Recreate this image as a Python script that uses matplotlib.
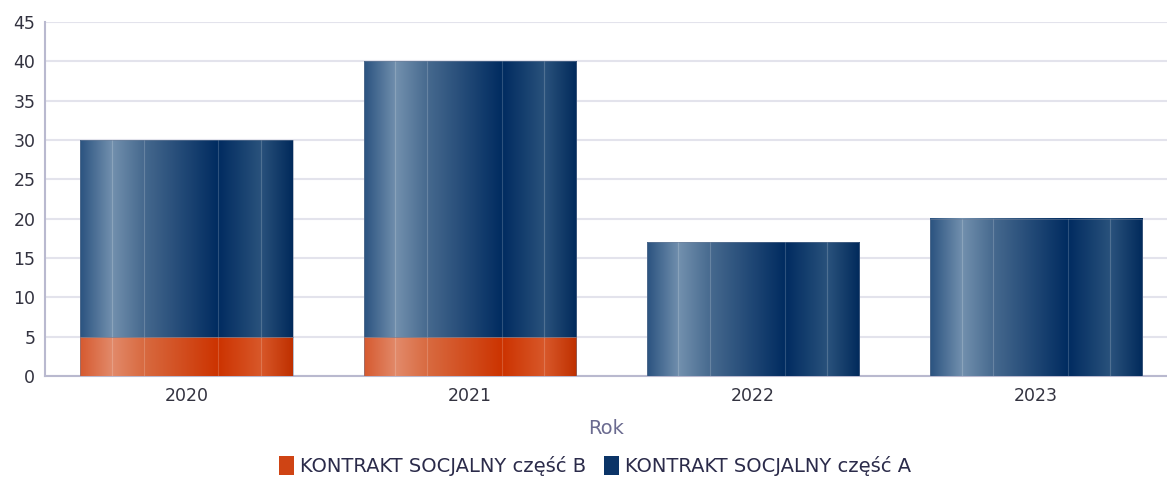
import numpy as np
import matplotlib
matplotlib.use('Agg')
import matplotlib.pyplot as plt
from matplotlib.colors import LinearSegmentedColormap
from matplotlib.patches import Rectangle

matplotlib.rcParams.update({
    'font.family': ['DejaVu Sans'],
    'font.size': 12,
})

# ── data ──────────────────────────────────────────────────────────────────
years = ['2020', '2021', '2022', '2023']
czesc_b = [5, 5, 0, 0]
czesc_a = [25, 35, 17, 20]
labels = ['KONTRAKT SOCJALNY część B', 'KONTRAKT SOCJALNY część A']

# ── gradient colour maps (horizontal shading across each bar) ─────────────
STOPS = [0.0, 0.15, 0.30, 0.65, 0.85, 1.0]
blue_cols = ['#2b5380', '#7290ae', '#46698e', '#002b60', '#2a527c', '#012a5b']
orng_cols = ['#d65a30', '#e28a6a', '#d86a40', '#cc3300', '#d8582a', '#bf3000']
cm_blue = LinearSegmentedColormap.from_list('b', list(zip(STOPS, blue_cols)))
cm_orng = LinearSegmentedColormap.from_list('o', list(zip(STOPS, orng_cols)))
grad = np.linspace(0, 1, 256).reshape(1, -1)

fig = plt.figure(figsize=(11.67, 4.78), dpi=100)
ax = fig.add_axes([0.0386, 0.2134, 0.9614, 0.7406])

x = np.arange(len(years))
W = 0.75
bars_b = ax.bar(x, czesc_b, width=W, facecolor='none', edgecolor='none', zorder=3)
bars_a = ax.bar(x, czesc_a, width=W, bottom=czesc_b, facecolor='none',
                edgecolor='none', zorder=3)


def shade(bars, cmap):
    for p in bars:
        if p.get_height() <= 0:
            continue
        x0, y0 = p.get_x(), p.get_y()
        x1, y1 = x0 + p.get_width(), y0 + p.get_height()
        ax.imshow(grad, cmap=cmap, aspect='auto', extent=(x0, x1, y0, y1),
                  origin='lower', interpolation='bicubic', zorder=3)
        # faint highlight lines
        for s in (0.15, 0.30, 0.65, 0.85):
            xs = x0 + s * p.get_width()
            ax.plot([xs, xs], [y0, y1], color='white', lw=0.8, alpha=0.18, zorder=4)
        ax.add_patch(Rectangle((x0, y0), p.get_width(), p.get_height(),
                               fill=False, edgecolor='#6f7f99', lw=0.6,
                               alpha=0.6, zorder=5))


shade(bars_b, cm_orng)
shade(bars_a, cm_blue)

ax.set_xlim(-0.5, 3.463)
ax.set_ylim(0, 45)
ax.set_yticks(range(0, 46, 5))
ax.set_xticks(x)
ax.set_xticklabels(years)
ax.grid(True, axis='y', color='#e3e3ec', lw=1.5, zorder=0)
ax.set_axisbelow(True)
for s in ('top', 'right'):
    ax.spines[s].set_visible(False)
ax.spines['left'].set_color('#b9b9cf')
ax.spines['bottom'].set_color('#b9b9cf')
ax.spines['left'].set_linewidth(1.5)
ax.spines['bottom'].set_linewidth(1.5)
ax.tick_params(axis='both', length=0, colors='#333340', labelsize=12.5)
ax.tick_params(axis='y', pad=7)
ax.tick_params(axis='x', pad=8)
ax.set_xlabel('Rok', color='#6b6b90', fontsize=14, labelpad=10)

handles = [Rectangle((0, 0), 1, 1, facecolor='#cf4414', edgecolor='none'),
           Rectangle((0, 0), 1, 1, facecolor='#0b3467', edgecolor='none')]
fig.legend(handles, labels, loc='center', bbox_to_anchor=(0.51, 0.025),
           ncol=2, frameon=False, fontsize=14, handlelength=0.8,
           handleheight=1.1, handletextpad=0.3, columnspacing=0.9,
           labelcolor='#2b2b4a')

fig.savefig('out.png', dpi=100, facecolor='white')
